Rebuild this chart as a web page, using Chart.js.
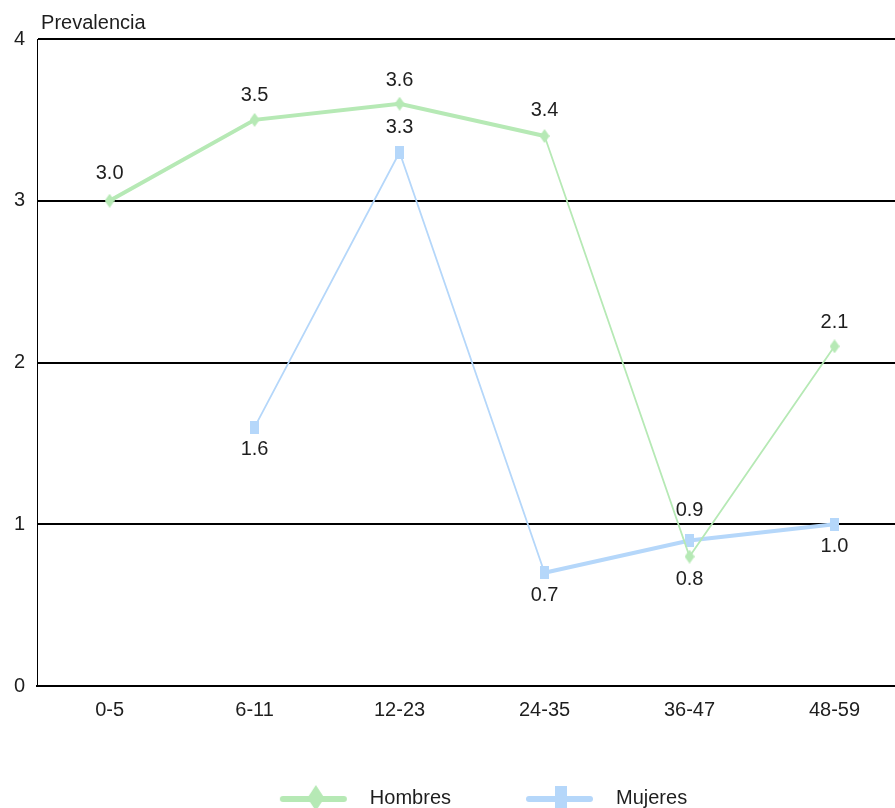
<!DOCTYPE html>
<html lang="es">
<head>
    <meta charset="UTF-8">
    <title>Prevalencia por edad</title>
    <script src="https://cdn.jsdelivr.net/npm/chart.js"></script>
    <style>
        body { margin: 0; background: #fff; }
        .container { width: 895px; height: 808px; position: relative; }
    </style>
</head>
<body>
    <div class="container">
        <canvas id="prevChart"></canvas>
    </div>

    <script>
        // data
        const categories = ['0-5', '6-11', '12-23', '24-35', '36-47', '48-59'];
        const hombres = [3.0, 3.5, 3.6, 3.4, 0.8, 2.1];
        const mujeres = [null, 1.6, 3.3, 0.7, 0.9, 1.0];

        // label offsets (px) above (-) or below (+) each point
        const hombresLabelDy = [-27, -24, -23, -26, 23, -24];
        const mujeresLabelDy = [null, 22, -25, 23, -30, 22];

        const green = '#b6e9b5';
        const blue = '#b5d7fa';
        const textColor = '#1e1e1e';
        const fontFamily = '"Liberation Sans", Arial, sans-serif';

        // the plot runs a little past the right edge of the canvas in the original
        const overflowRight = 12;

        function makeCanvas(w, h, draw) {
            const c = document.createElement('canvas');
            c.width = w;
            c.height = h;
            draw(c.getContext('2d'), w, h);
            return c;
        }

        function diamond(ctx, cx, cy, w, h, color) {
            ctx.fillStyle = color;
            ctx.beginPath();
            ctx.moveTo(cx, cy - h / 2);
            ctx.lineTo(cx + w / 2, cy);
            ctx.lineTo(cx, cy + h / 2);
            ctx.lineTo(cx - w / 2, cy);
            ctx.closePath();
            ctx.fill();
        }

        // point markers (slightly taller than wide, as in the original)
        const diamondPoint = makeCanvas(10, 14, (ctx) => diamond(ctx, 5, 7, 10, 14, green));
        const squarePoint = makeCanvas(9, 13, (ctx) => {
            ctx.fillStyle = blue;
            ctx.fillRect(0, 0, 9, 13);
        });

        // legend symbols: line with marker in the middle
        function legendSymbol(color, marker) {
            return makeCanvas(138, 28, (ctx) => {
                ctx.strokeStyle = color;
                ctx.lineWidth = 6;
                ctx.lineCap = 'round';
                ctx.beginPath();
                ctx.moveTo(61, 15);
                ctx.lineTo(122, 15);
                ctx.stroke();
                if (marker === 'diamond') {
                    diamond(ctx, 94, 14, 17, 26, color);
                } else {
                    ctx.fillStyle = color;
                    ctx.fillRect(87, 2, 12, 25);
                }
            });
        }
        const legendHombres = legendSymbol(green, 'diamond');
        const legendMujeres = legendSymbol(blue, 'square');

        // steep segments were drawn thin in the original
        const segWidth = (ctx) =>
            Math.abs(ctx.p1.y - ctx.p0.y) > Math.abs(ctx.p1.x - ctx.p0.x) ? 1.8 : 4;

        // widen the plot area past the canvas edge after layout
        const stretchRight = {
            id: 'stretchRight',
            afterLayout(chart) {
                const area = chart.chartArea;
                const extra = chart.width + overflowRight - area.right;
                if (extra <= 0) return;
                area.right += extra;
                area.width += extra;
                const x = chart.scales.x;
                x.right += extra;
                x.width += extra;
                x.configure();
            }
        };

        const yTitle = {
            id: 'yTitle',
            afterDraw(chart) {
                const ctx = chart.ctx;
                ctx.save();
                ctx.font = '20px ' + fontFamily;
                ctx.fillStyle = textColor;
                ctx.textAlign = 'left';
                ctx.textBaseline = 'alphabetic';
                ctx.fillText('Prevalencia', chart.chartArea.left + 4, 29);
                ctx.restore();
            }
        };

        const pointLabels = {
            id: 'pointLabels',
            afterDatasetsDraw(chart) {
                const ctx = chart.ctx;
                const offsets = [hombresLabelDy, mujeresLabelDy];
                ctx.save();
                ctx.font = '20px ' + fontFamily;
                ctx.fillStyle = textColor;
                ctx.textAlign = 'center';
                ctx.textBaseline = 'middle';
                chart.data.datasets.forEach((ds, di) => {
                    const meta = chart.getDatasetMeta(di);
                    meta.data.forEach((pt, i) => {
                        const v = ds.data[i];
                        if (v === null || v === undefined) return;
                        ctx.fillText(v.toFixed(1), pt.x, pt.y + offsets[di][i]);
                    });
                });
                ctx.restore();
            }
        };

        const chartCtx = document.getElementById('prevChart').getContext('2d');
        const prevChart = new Chart(chartCtx, {
            type: 'line',
            data: {
                labels: categories,
                datasets: [{
                    label: 'Hombres',
                    data: hombres,
                    borderColor: green,
                    backgroundColor: green,
                    pointStyle: diamondPoint,
                    borderWidth: 4,
                    segment: { borderWidth: segWidth },
                    fill: false,
                    tension: 0
                }, {
                    label: 'Mujeres',
                    data: mujeres,
                    borderColor: blue,
                    backgroundColor: blue,
                    pointStyle: squarePoint,
                    borderWidth: 4,
                    segment: { borderWidth: segWidth },
                    fill: false,
                    tension: 0
                }]
            },
            options: {
                responsive: true,
                maintainAspectRatio: false,
                devicePixelRatio: 1,
                animation: false,
                layout: {
                    autoPadding: false,
                    padding: { top: 39, left: 2, right: -overflowRight, bottom: -10 }
                },
                font: { family: fontFamily, size: 20 },
                scales: {
                    x: {
                        offset: true,
                        grid: { display: false, drawTicks: false },
                        border: { display: true, color: '#000', width: 2 },
                        ticks: {
                            color: textColor,
                            padding: 12,
                            font: { family: fontFamily, size: 20 }
                        },
                        afterFit: (scale) => { scale.height = 85; }
                    },
                    y: {
                        min: 0,
                        max: 4,
                        grid: { color: '#000', lineWidth: 2, drawTicks: false },
                        border: { display: true, color: '#000', width: 1 },
                        ticks: {
                            stepSize: 1,
                            color: textColor,
                            padding: 12,
                            font: { family: fontFamily, size: 20 }
                        }
                    }
                },
                plugins: {
                    tooltip: { enabled: false },
                    legend: {
                        position: 'bottom',
                        labels: {
                            usePointStyle: true,
                            pointStyleWidth: 138,
                            padding: 17,
                            color: textColor,
                            font: { family: fontFamily, size: 20 },
                            generateLabels: (chart) => {
                                const items = Chart.defaults.plugins.legend.labels.generateLabels(chart);
                                items[0].pointStyle = legendHombres;
                                items[1].pointStyle = legendMujeres;
                                return items;
                            }
                        }
                    }
                }
            },
            plugins: [stretchRight, yTitle, pointLabels]
        });
    </script>
</body>
</html>
